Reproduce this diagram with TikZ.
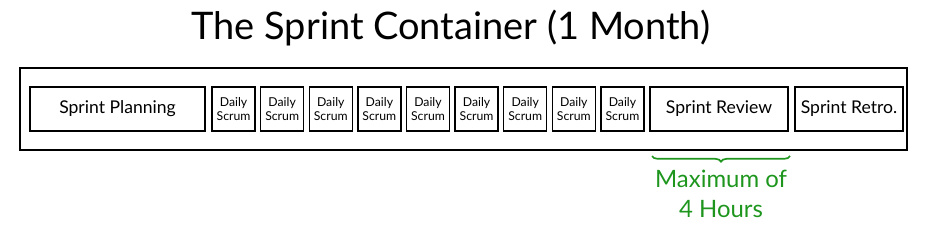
\documentclass[tikz,border=0pt]{standalone}
\usepackage{fontspec}
\setmainfont{Lato}
\usepackage{xcolor}
\usepackage{tikz}
\usetikzlibrary{positioning, decorations.pathreplacing}

\definecolor{limitgreen}{RGB}{30,150,30}

\begin{document}
\begin{tikzpicture}[x=0.025cm, y=-0.025cm, node distance=0.15cm, >=latex,
    phase/.style={draw, line width=1pt, rectangle, minimum height=1.1cm, inner sep=0pt, outer sep=0pt, align=center, font=\fontsize{12.5}{15}\selectfont},
    daily/.style={draw, line width=1pt, rectangle, minimum width=1.075cm, minimum height=1.1cm, inner sep=0pt, outer sep=0pt, align=center, font=\fontsize{8.7}{10.5}\selectfont}]
    \useasboundingbox (0,0) rectangle (925,238);

    \node [font=\fontsize{27}{32}\selectfont] (title) at (451,28) {The Sprint Container (1 Month)};
    \node [draw, line width=1pt, rectangle, minimum width=22.175cm, minimum height=2.05cm, inner sep=0pt, outer sep=0pt] (sprint) at (463.5,109) {};

    \node [phase, minimum width=4.375cm] (planning) at (117.5,109) {Sprint Planning};
    \node [daily, right=0.175cm of planning] (d1) {Daily\\Scrum};
    \foreach \i [count=\j from 1] in {2,...,9}
        \node [daily, right=0.14cm of d\j] (d\i) {Daily\\Scrum};
    \node [phase, minimum width=3.45cm, right=0.15cm of d9] (review) {Sprint Review};
    \node [phase, minimum width=2.7cm, right=0.175cm of review] (retro) {Sprint Retro.};

    % time box under the review
    \coordinate (bl) at (652,156);
    \coordinate (br) at (790,156);
    \draw [limitgreen, line width=1.2pt, decorate, decoration={brace, mirror, amplitude=4pt}] (bl) -- (br);
    \node [text=limitgreen, align=center, font=\fontsize{17}{21}\selectfont] (limit) at (721,194) {Maximum of\\4 Hours};
\end{tikzpicture}
\end{document}
